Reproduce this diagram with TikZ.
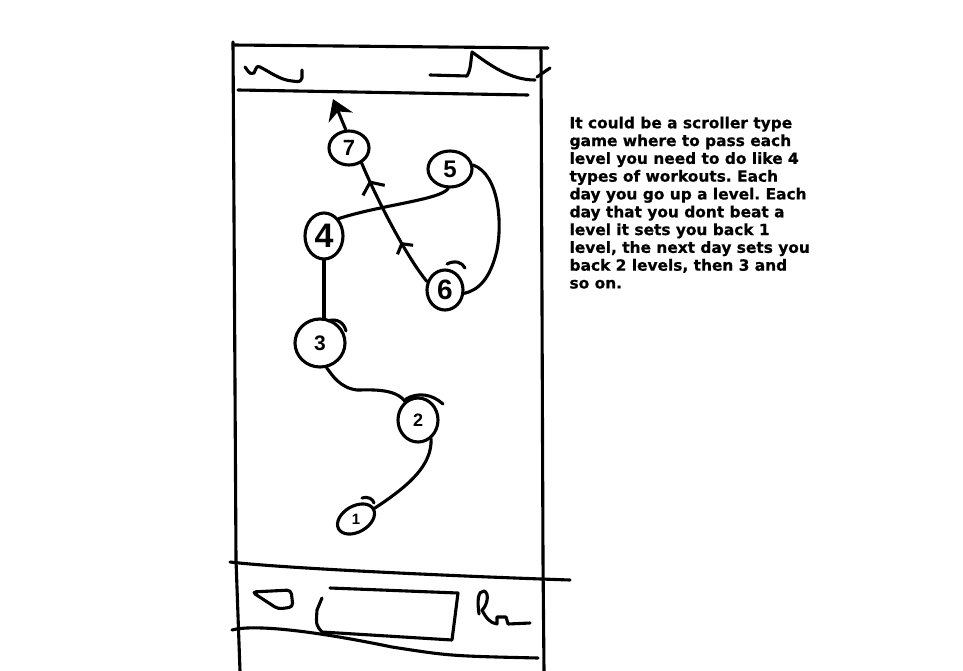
\documentclass[tikz,border=0pt]{standalone}
\usepackage{fontspec}
\usepackage{graphicx}
\newfontfamily\notefont[FakeBold=0.6]{DejaVu Sans}
\newfontfamily\digitfont{Liberation Sans}
\usetikzlibrary{shapes.geometric,arrows.meta,decorations.markings}
\begin{document}
\begin{tikzpicture}[x=1pt,y=-1pt,line width=3.1pt,line cap=round,line join=round,
  lvl/.style={ellipse,draw,line width=3.1pt,inner sep=0pt},
  dig/.style={font=\digitfont\bfseries\fontsize{#1}{#1}\selectfont},
  chevs/.style={postaction={decorate},decoration={markings,
     mark=at position 0.35 with {\arrow{Straight Barb[length=7pt,width=18pt,line width=3.1pt]}},
     mark=at position 0.86 with {\arrow{Straight Barb[length=9pt,width=24pt,line width=3.1pt]}}}}]
\fill[white] (0,0) rectangle (963,671);
\useasboundingbox (0,0) rectangle (963,671);
% phone frame
\draw (233,42) -- (236,560) -- (240,671);
\draw (233,45) -- (548,48);
\draw (541,50) -- (543,560) -- (544,671);
\draw (238,90) -- (528,95);
% top bar icons
\draw (245,67) .. controls (250,74) .. (254,73) .. controls (257,66) .. (260,67)
  .. controls (270,72) and (280,80) .. (292,81) .. controls (300,82) .. (302,78) -- (302,70);
\draw (430,75) -- (467,76) .. controls (470,70) .. (472,52) .. controls (490,65) and (510,80) .. (535,80);
\draw (537,77) -- (550,68);
% bottom bar
\draw (230,562) .. controls (280,568) and (450,576) .. (570,580);
\draw (232,630) .. controls (250,625) and (300,628) .. (392,647) .. controls (450,656) .. (538,658);
\draw[rounded corners=4pt] (252,592) -- (291,590) -- (293,607) -- (278,609) -- cycle;
\draw (330,588) -- (458,593) -- (452,640) -- (322,632) .. controls (316,625) .. (317,610) -- (322,598);
\draw (479,614) .. controls (477,600) and (478,591) .. (484,591) .. controls (490,593) and (487,606) .. (482,610)
  .. controls (486,618) and (490,623) .. (497,624) -- (497,617) -- (506,617) -- (508,624) -- (530,623);
% level nodes
\node[lvl,minimum width=40pt,minimum height=34pt,dig=22] (n7) at (349,148) {7};
\node[lvl,minimum width=44pt,minimum height=36pt,dig=24] (n5) at (450,169) {5};
\node[lvl,minimum width=38pt,minimum height=46pt,dig=34] (n4) at (324,236) {4};
\node[lvl,minimum width=36pt,minimum height=40pt,dig=28] (n6) at (445,290) {6};
\node[lvl,minimum width=50pt,minimum height=48pt,dig=21] (n3) at (320,343) {3};
\node[lvl,minimum width=40pt,minimum height=44pt,dig=18] (n2) at (418,420) {2};
\node[lvl,minimum width=40pt,minimum height=26pt,rotate=30,dig=15] (n1) at (356,519) {\rotatebox{-30}{1}};
% pen overlaps on the circles
\draw (328,321) .. controls (336,318) and (344,322) .. (346,331);
\draw (406,399) .. controls (418,392) and (432,394) .. (443,404);
\draw (362,498) .. controls (368,496) and (373,499) .. (374,503);
\draw (447,264) .. controls (455,260) and (462,262) .. (465,268);
% connectors
\coordinate (up) at (333,99);
\draw (n1.east) .. controls (410,485) and (432,465) .. (n2.-55);
\draw (n2.125) .. controls (395,388) and (370,390) .. (357,390) .. controls (340,388) and (332,375) .. (n3.-75);
\draw (n4.south) -- (n4.south |- n3.north);
\draw (n4.50) .. controls (380,205) and (440,200) .. (n5.-95);
\draw (n5.10) .. controls (500,175) and (502,225) .. (497,250) .. controls (490,280) and (478,290) .. (n6.-10);
\draw[chevs] (n6.155) .. controls (405,255) and (375,195) .. (n7.-50);
\draw[-{Stealth[length=20pt,width=26pt]}] (n7.100) -- (up);
% note
\node[anchor=north west,align=left,inner sep=0pt,font=\notefont\bfseries\frenchspacing\fontsize{15.4}{17.8}\selectfont] (note) at (568,115)
{It could be a scroller type\\game where to pass each\\level you need to do like 4\\types of workouts. Each\\day you go up a level. Each\\day that you dont beat a\\level it sets you back 1\\level, the next day sets you\\back 2 levels, then 3 and\\so on.};
\end{tikzpicture}
\end{document}
